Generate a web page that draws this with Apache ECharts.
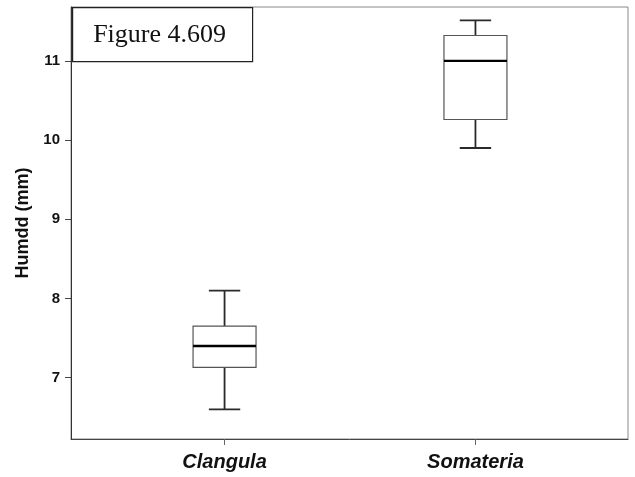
<!DOCTYPE html>
<html>
<head>
<meta charset="utf-8">
<script src="https://cdn.jsdelivr.net/npm/echarts@6/dist/echarts.min.js"></script>
<style>html,body{margin:0;padding:0;background:#fff}#c{width:635px;height:477px}</style>
</head>
<body>
<div id="c"></div>
<script>
// Data
const categories = ['Clangula', 'Somateria'];
const positions = [1, 2];
const whiskerLow = [6.6, 9.9];
const q1 = [7.13, 10.26];
const median = [7.4, 11.0];
const q3 = [7.65, 11.32];
const whiskerHigh = [8.1, 11.51];
const yTicks = [7, 8, 9, 10, 11];

const seriesData = categories.map((c, i) => [positions[i], whiskerLow[i], q1[i], median[i], q3[i], whiskerHigh[i]]);

const chart = echarts.init(document.getElementById('c'), null, {renderer: 'canvas'});

function renderBox(params, api) {
  const x = api.value(0);
  const lo = api.coord([x, api.value(1)]);
  const b1 = api.coord([x, api.value(2)]);
  const md = api.coord([x, api.value(3)]);
  const b3 = api.coord([x, api.value(4)]);
  const hi = api.coord([x, api.value(5)]);
  const boxW = api.size([0.251, 0])[0];
  const capW = api.size([0.125, 0])[0];
  const cx = lo[0];
  const wStyle = {stroke: '#2a2a2a', lineWidth: 1.8};
  return {
    type: 'group',
    children: [
      {type: 'line', shape: {x1: cx, y1: hi[1], x2: cx, y2: b3[1]}, style: wStyle},
      {type: 'line', shape: {x1: cx, y1: b1[1], x2: cx, y2: lo[1]}, style: wStyle},
      {type: 'line', shape: {x1: cx - capW / 2, y1: hi[1], x2: cx + capW / 2, y2: hi[1]}, style: wStyle},
      {type: 'line', shape: {x1: cx - capW / 2, y1: lo[1], x2: cx + capW / 2, y2: lo[1]}, style: wStyle},
      {type: 'rect', shape: {x: cx - boxW / 2, y: b3[1], width: boxW, height: b1[1] - b3[1]}, style: {fill: '#fff', stroke: '#555', lineWidth: 1.2}},
      {type: 'line', shape: {x1: cx - boxW / 2, y1: md[1], x2: cx + boxW / 2, y2: md[1]}, style: {stroke: '#000', lineWidth: 2.4}}
    ]
  };
}

chart.setOption({
  animation: false,
  backgroundColor: '#fff',
  grid: {left: 71, top: 7, width: 557, height: 432, show: true, borderColor: '#888', borderWidth: 1, backgroundColor: 'transparent'},
  xAxis: {
    type: 'value', min: 0.388, max: 2.608,
    splitLine: {show: false},
    axisLine: {show: true, lineStyle: {color: '#444', width: 1}},
    axisTick: {show: true, customValues: positions, length: 6, lineStyle: {color: '#666', width: 1}},
    axisLabel: {
      customValues: positions, margin: 13,
      formatter: v => categories[positions.indexOf(v)] || '',
      fontFamily: 'Liberation Sans, Arial', fontWeight: 'bold', fontStyle: 'italic', fontSize: 20, color: '#111'
    }
  },
  yAxis: {
    type: 'value', min: 6.226, max: 11.68,
    name: 'Humdd (mm)', nameLocation: 'middle', nameGap: 34, nameRotate: 90,
    nameTextStyle: {fontFamily: 'Liberation Sans, Arial', fontWeight: 'bold', fontSize: 18, color: '#111'},
    splitLine: {show: false},
    axisLine: {show: true, lineStyle: {color: '#333', width: 1}},
    axisTick: {show: true, customValues: yTicks, length: 6, lineStyle: {color: '#444', width: 1}},
    axisLabel: {customValues: yTicks, margin: 11, fontFamily: 'Liberation Sans, Arial', fontWeight: 'bold', fontSize: 15, color: '#111'}
  },
  series: [{
    type: 'custom',
    renderItem: renderBox,
    data: seriesData,
    encode: {x: 0, y: [1, 2, 3, 4, 5]},
    clip: false
  }],
  graphic: [{
    type: 'group', left: 72, top: 7, z: 100,
    children: [
      {type: 'rect', shape: {x: 0, y: 0, width: 180, height: 54}, style: {fill: '#fff', stroke: '#222', lineWidth: 1.2}},
      {type: 'text', x: 87, y: 28, style: {text: 'Figure 4.609', fontFamily: 'Liberation Serif, Times New Roman', fontSize: 26, fill: '#111', align: 'center', verticalAlign: 'middle'}}
    ]
  }]
});
</script>
</body>
</html>
